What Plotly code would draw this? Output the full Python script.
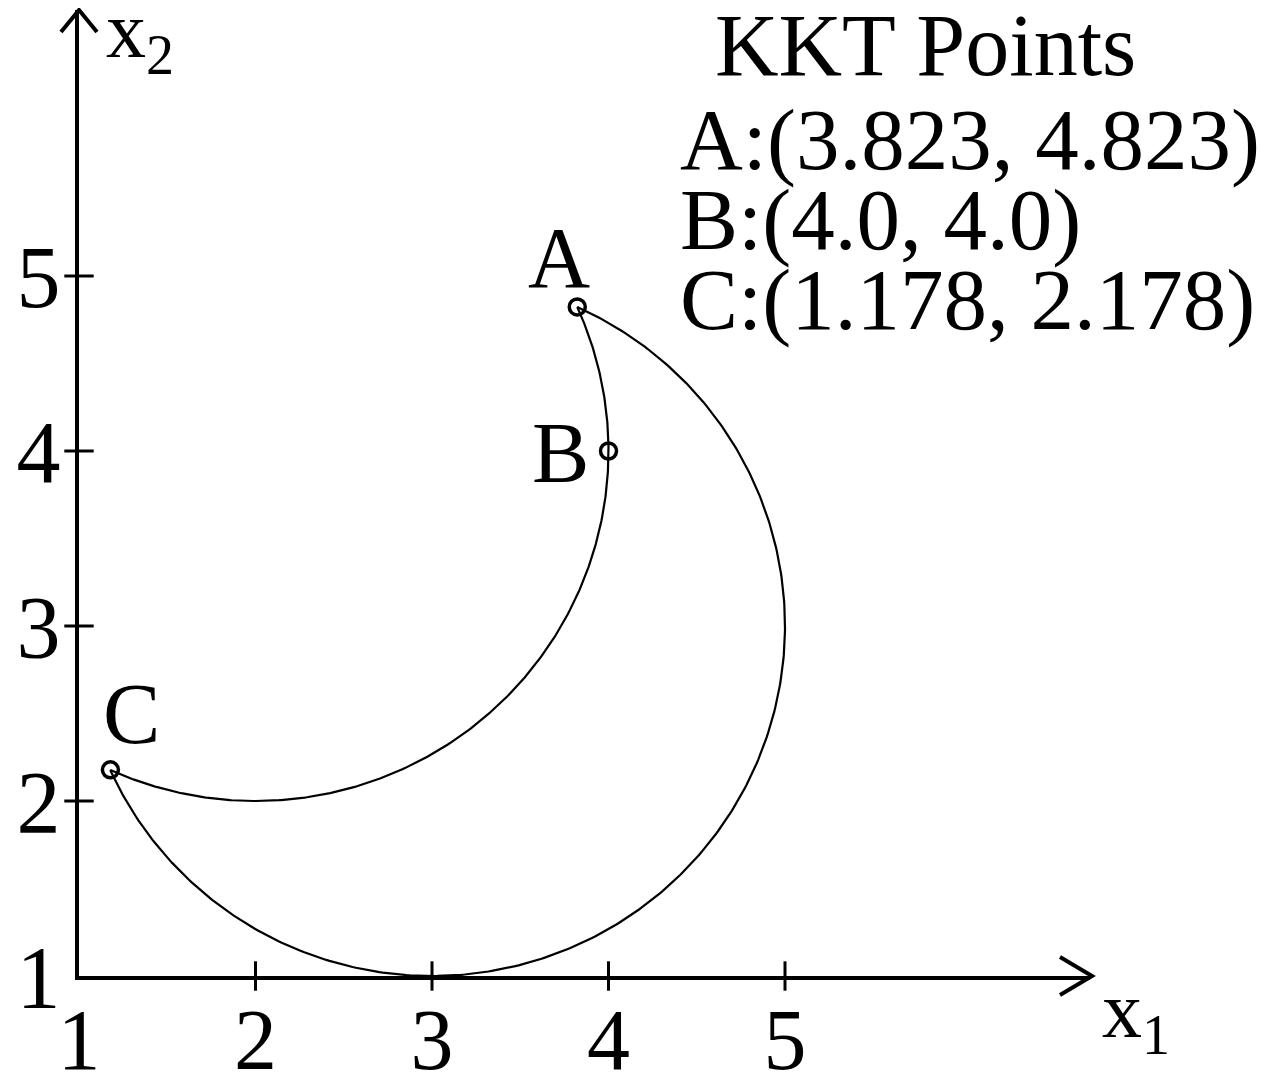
import numpy as np
import plotly.graph_objects as go

# KKT points of the problem
kkt_labels = ["A", "B", "C"]
kkt_x = [3.823, 4.0, 1.178]
kkt_y = [4.823, 4.0, 2.178]

# the two constraint circles bounding the feasible crescent
outer_center = (3.0, 3.0)
outer_radius = 2.0
inner_center = (2.0, 4.0)
inner_radius = 2.0

tick_vals = [1, 2, 3, 4, 5]

FONT = "Liberation Serif"
W, H = 1286, 1078
OFF = 8  # the page body adds an 8px margin around the figure
# plot area in page pixels: left 79, right 1090 (arrow tip), top 10, bottom 976
ML, MR, MT, MB = 79 - OFF, W - (1090 - OFF), 10 - OFF, H - (976 - OFF)
PW = W - ML - MR
PH = H - MT - MB
x_range = [1, 1 + PW / 176.5]
y_range = [1, 1 + PH / 175.0]


def arc(center, radius, p_from, p_to, clockwise):
    a0 = np.arctan2(p_from[1] - center[1], p_from[0] - center[0])
    a1 = np.arctan2(p_to[1] - center[1], p_to[0] - center[0])
    if clockwise and a1 > a0:
        a1 -= 2 * np.pi
    if not clockwise and a1 < a0:
        a1 += 2 * np.pi
    t = np.linspace(a0, a1, 400)
    return center[0] + radius * np.cos(t), center[1] + radius * np.sin(t)


pA = (kkt_x[0], kkt_y[0])
pC = (kkt_x[2], kkt_y[2])
ox, oy = arc(outer_center, outer_radius, pA, pC, clockwise=True)
ix, iy = arc(inner_center, inner_radius, pC, pA, clockwise=False)

fig = go.Figure()
fig.add_trace(go.Scatter(x=ox, y=oy, mode="lines", line=dict(color="black", width=2.2),
                         cliponaxis=False, showlegend=False, hoverinfo="skip"))
fig.add_trace(go.Scatter(x=ix, y=iy, mode="lines", line=dict(color="black", width=2.2),
                         cliponaxis=False, showlegend=False, hoverinfo="skip"))

# tick marks crossing the axes
fig.add_trace(go.Scatter(x=tick_vals[1:], y=[tick_vals[0]] * 4, mode="markers",
                         marker=dict(symbol="line-ns", size=21, color="black",
                                     line=dict(width=3, color="black")),
                         cliponaxis=False, showlegend=False, hoverinfo="skip"))
fig.add_trace(go.Scatter(x=[tick_vals[0]] * 4, y=tick_vals[1:], mode="markers",
                         marker=dict(symbol="line-ew", size=21, color="black",
                                     line=dict(width=3, color="black")),
                         cliponaxis=False, showlegend=False, hoverinfo="skip"))

fig.add_trace(go.Scatter(x=kkt_x, y=kkt_y, mode="markers",
                         marker=dict(symbol="circle-open", size=16, color="black",
                                     line=dict(width=3.5, color="black")),
                         cliponaxis=False, showlegend=False))


def px2paper(px, py):
    # page pixel -> paper coords
    return (px - OFF - ML) / PW, (H - MB - (py - OFF)) / PH


# point labels
shifts = {"A": (-18, 49), "B": (-48, -2), "C": (21, 56)}
for lab, x, y in zip(kkt_labels, kkt_x, kkt_y):
    dx, dy = shifts[lab]
    fig.add_annotation(x=x, y=y, xref="x", yref="y", text=lab, showarrow=False,
                       xshift=dx, yshift=dy, xanchor="center", yanchor="middle",
                       font=dict(family=FONT, size=86, color="black"))

# text block at the top right
px, py = px2paper(925, 96)
fig.add_annotation(x=px, y=py, xref="paper", yref="paper", text="KKT Points",
                   showarrow=False, xanchor="center", yanchor="bottom",
                   font=dict(family=FONT, size=88, color="black"))
for i, (lab, x, y) in enumerate(zip(kkt_labels, kkt_x, kkt_y)):
    px, py = px2paper(678, 190 + 80 * i)
    fig.add_annotation(x=px, y=py, xref="paper", yref="paper",
                       text=f"{lab}:({x}, {y})", showarrow=False,
                       xanchor="left", yanchor="bottom",
                       font=dict(family=FONT, size=87, color="black"))

# axis titles
px, py = px2paper(104, -16)
fig.add_annotation(x=px, y=py, xref="paper", yref="paper", text="x<sub>2</sub>",
                   showarrow=False, xanchor="left", yanchor="top",
                   font=dict(family=FONT, size=80, color="black"))
px, py = px2paper(1100, 964)
fig.add_annotation(x=px, y=py, xref="paper", yref="paper", text="x<sub>1</sub>",
                   showarrow=False, xanchor="left", yanchor="top",
                   font=dict(family=FONT, size=80, color="black"))

# open arrow heads at the axis ends
fig.add_shape(type="path", xref="paper", yref="paper", xsizemode="pixel", ysizemode="pixel",
              xanchor=1, yanchor=0,
              path="M -30 19 L 2 0 L -30 -19", line=dict(color="black", width=4))
fig.add_shape(type="path", xref="paper", yref="paper", xsizemode="pixel", ysizemode="pixel",
              xanchor=0, yanchor=1,
              path="M -18 -22 L 0 0 L 18 -22", line=dict(color="black", width=4))

fig.update_layout(
    width=W, height=H,
    margin=dict(l=ML, r=MR, t=MT, b=MB),
    plot_bgcolor="white", paper_bgcolor="white",
    font=dict(family=FONT, color="black"),
    xaxis=dict(range=x_range, showline=True, linecolor="black", linewidth=4,
               showgrid=False, zeroline=False, tickvals=tick_vals, ticks="",
               ticklabelstandoff=-14, automargin=False,
               tickfont=dict(family=FONT, size=86, color="black")),
    yaxis=dict(range=y_range, showline=True, linecolor="black", linewidth=4,
               showgrid=False, zeroline=False, tickvals=tick_vals, ticks="",
               ticklabelstandoff=-3, automargin=False,
               tickfont=dict(family=FONT, size=88, color="black")),
)

fig.write_html("out.html")
